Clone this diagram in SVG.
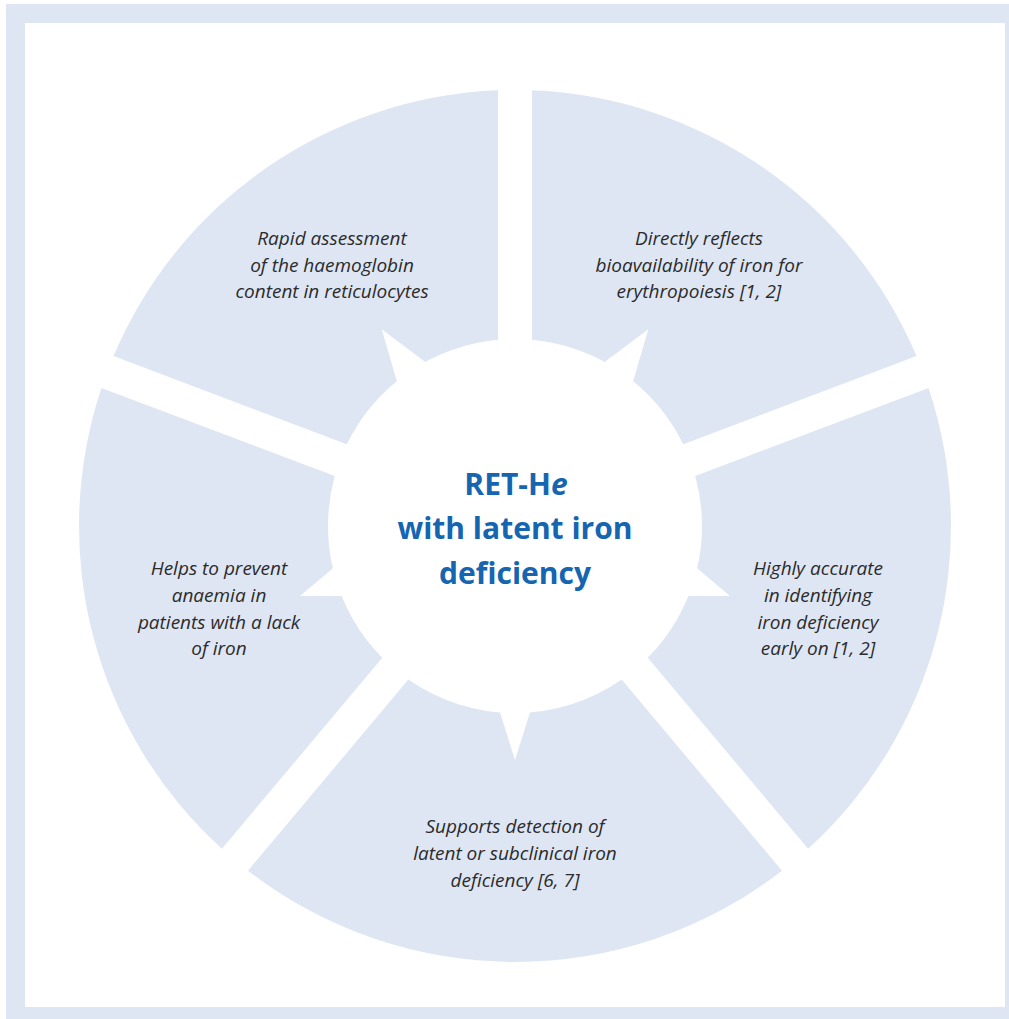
<svg xmlns="http://www.w3.org/2000/svg" width="1009" height="1019" viewBox="0 0 1009 1019">
<style>
.seg{fill:#dfe6f3}
.tri{fill:#ffffff}
.t{font-family:"Open Sans","Noto Sans",sans-serif;font-style:italic;font-size:19px;fill:#2b2b2b;text-anchor:middle}
.h{font-family:"Open Sans","Noto Sans",sans-serif;font-weight:bold;font-size:30px;fill:#1565b0;text-anchor:middle}
</style>
<rect x="6" y="4" width="1003" height="1015" fill="#dfe6f3"/>
<rect x="25" y="23" width="980" height="984" fill="#ffffff"/>
<g id="connectors"></g>
<g id="node-top-right">
<path class="seg" d="M 532 339.77 L 532 90.33 A 436 436 0 0 1 916.53 356.10 L 683.20 444.27 A 187 187 0 0 0 532 339.77 Z"/>
<polygon class="tri" points="648.3,329.3 627.3,401.3 587.7,374.7"/>
<text class="t" x="699" y="245">Directly reflects</text>
<text class="t" x="699" y="272">bioavailability of iron for</text>
<text class="t" x="699" y="298">erythropoiesis [1, 2]</text>
</g>
<g id="node-right">
<path class="seg" d="M 695.22 476.07 L 928.55 387.90 A 436 436 0 0 1 808.06 848.81 L 647.73 657.73 A 187 187 0 0 0 695.22 476.07 Z"/>
<polygon class="tri" points="730,596 685.6,558.6 676.4,596"/>
<text class="t" x="818" y="575">Highly accurate</text>
<text class="t" x="818" y="602">in identifying</text>
<text class="t" x="818" y="629">iron deficiency</text>
<text class="t" x="818" y="655">early on [1, 2]</text>
</g>
<g id="node-bottom">
<path class="seg" d="M 621.69 679.59 L 782.02 870.67 A 436 436 0 0 1 247.98 870.67 L 408.31 679.59 A 187 187 0 0 0 621.69 679.59 Z"/>
<polygon class="tri" points="515,760 494,693.2 536,693.2"/>
<text class="t" x="515" y="833">Supports detection of</text>
<text class="t" x="515" y="860">latent or subclinical iron</text>
<text class="t" x="515" y="887">deficiency [6, 7]</text>
</g>
<g id="node-left">
<path class="seg" d="M 382.27 657.73 L 221.94 848.81 A 436 436 0 0 1 101.45 387.90 L 334.78 476.07 A 187 187 0 0 0 382.27 657.73 Z"/>
<polygon class="tri" points="300,596 344.4,558.6 353.6,596"/>
<text class="t" x="219" y="575">Helps to prevent</text>
<text class="t" x="219" y="602">anaemia in</text>
<text class="t" x="219" y="629">patients with a lack</text>
<text class="t" x="219" y="655">of iron</text>
</g>
<g id="node-top-left">
<path class="seg" d="M 346.80 444.27 L 113.47 356.10 A 436 436 0 0 1 498 90.33 L 498 339.77 A 187 187 0 0 0 346.80 444.27 Z"/>
<polygon class="tri" points="381.7,329.3 402.7,401.3 442.3,374.7"/>
<text class="t" x="332" y="245">Rapid assessment</text>
<text class="t" x="332" y="272">of the haemoglobin</text>
<text class="t" x="332" y="298">content in reticulocytes</text>
</g>
<g id="node-center">
<text class="h" x="516" y="495">RET-H<tspan font-style="italic">e</tspan></text>
<text class="h" x="515" y="539">with latent iron</text>
<text class="h" x="515" y="584">deficiency</text>
</g>
</svg>
